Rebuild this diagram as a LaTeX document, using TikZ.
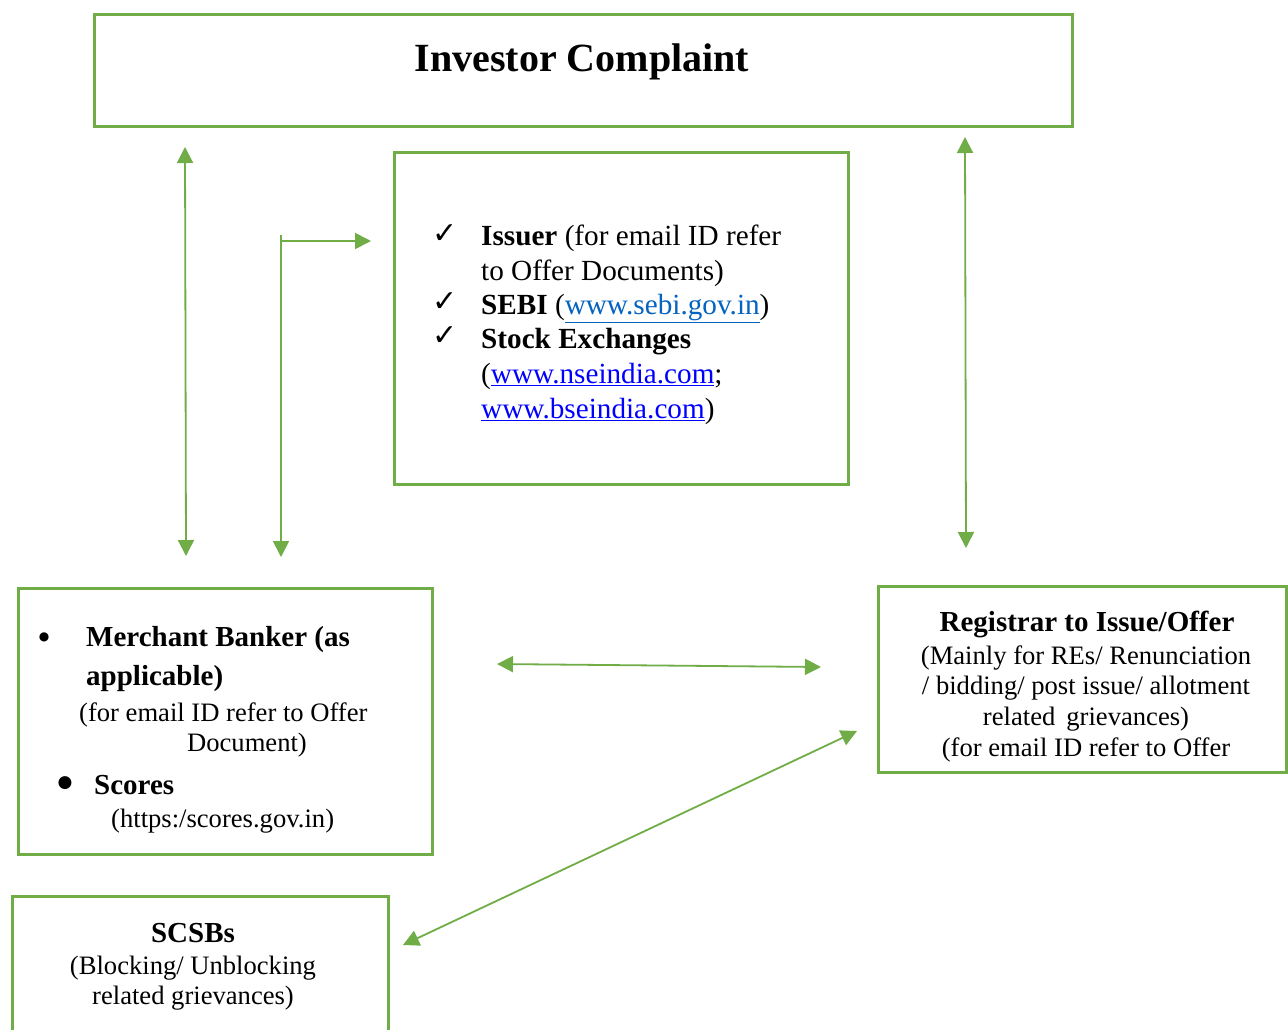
\documentclass[tikz,border=0pt]{standalone}
\usepackage{fontspec}
\setmainfont{Liberation Serif}
\newfontfamily\symfont{DejaVu Sans}
\usetikzlibrary{arrows.meta}
\definecolor{grn}{HTML}{70AD47}
\definecolor{lnkA}{HTML}{0563C1}
\definecolor{lnkB}{HTML}{0000FF}
\tikzset{
  box/.style={draw=grn, line width=3pt, rectangle, inner sep=0pt, anchor=north west},
  conn/.style={draw=grn, line width=1.8pt, {Triangle[length=16pt,width=16pt]}-{Triangle[length=16pt,width=16pt]}},
  conn1/.style={draw=grn, line width=1.8pt, -{Triangle[length=16pt,width=16pt]}},
  txt/.style={inner sep=0pt, font=\fontsize{26.6}{30}\selectfont},
  btxt/.style={inner sep=0pt, font=\fontsize{29}{30}\selectfont\bfseries},
  midtxt/.style={inner sep=0pt, font=\fontsize{29.2}{34}\selectfont, anchor=base west},
  sym/.style={inner sep=0pt, font=\fontsize{#1}{30}\symfont},
}
\newcommand{\lnkA}[1]{\textcolor{lnkA}{\underline{#1}}}
\newcommand{\lnkB}[1]{\textcolor{lnkB}{\underline{#1}}}
\newcommand{\mbf}[1]{{\fontsize{29.2}{34}\selectfont\bfseries #1}}
\begin{document}
\begin{tikzpicture}[x=1pt,y=-1pt]
\useasboundingbox (0,0) rectangle (1288,1029);
\fill[white] (0,0) rectangle (1288,1029);
% boxes
\node[box, minimum width=978pt, minimum height=112pt] (ic) at (93,13) {};
\node[box, minimum width=454pt, minimum height=332pt] (mid) at (393,151) {};
\node[box, minimum width=414pt, minimum height=266pt] (mb) at (17,587) {};
\node[box, minimum width=408pt, minimum height=186pt] (reg) at (877,585) {};
\node[box, minimum width=376pt, minimum height=150pt] (scsb) at (11,895) {};
% title
\node[inner sep=0pt, font=\fontsize{40}{44}\selectfont\bfseries, anchor=base] (ttl) at (582,71) {Investor Complaint};
% middle box
\node[sym=30] (c1) at (445,234) {✓};
\node[sym=30] (c2) at (445,302) {✓};
\node[sym=30] (c3) at (445,336) {✓};
\node[midtxt] (m1) at (481,245) {\mbf{Issuer} (for email ID refer};
\node[midtxt] (m2) at (481,280) {to Offer Documents)};
\node[midtxt] (m3) at (481,314) {\mbf{SEBI} (\lnkA{www.sebi.gov.in})};
\node[midtxt] (m4) at (481,348) {\mbf{Stock Exchanges}};
\node[midtxt] (m5) at (481,383) {(\lnkB{www.nseindia.com};};
\node[midtxt] (m6) at (481,418) {\lnkB{www.bseindia.com})};
% merchant box
\node[sym=12] (b1) at (44,637) {●};
\node[btxt, anchor=base west] (mb1) at (86,646) {Merchant Banker (as};
\node[btxt, anchor=base west] (mb2) at (86,685) {applicable)};
\node[txt, anchor=base west] (mb3) at (79,721) {(for email ID refer to Offer};
\node[txt, anchor=base] (mb4) at (247,751) {Document)};
\node[sym=17] (b2) at (65,783) {●};
\node[btxt, anchor=base west] (mb5) at (94,794) {Scores};
\node[txt, anchor=base west] (mb6) at (111,827) {(https:/scores.gov.in)};
% registrar box
\node[btxt, anchor=base] (r1) at (1087,631) {Registrar to Issue/Offer};
\node[txt, anchor=base] (r2) at (1086,664) {(Mainly for REs/ Renunciation};
\node[txt, anchor=base] (r3) at (1086,694) {/ bidding/ post issue/ allotment};
\node[txt, anchor=base] (r4) at (1086,725) {related\, grievances)};
\node[txt, anchor=base] (r5) at (1086,756) {(for email ID refer to Offer};
% scsb box
\node[btxt, anchor=base] (s1) at (193,942) {SCSBs};
\node[txt, anchor=base] (s2) at (193,974) {(Blocking/ Unblocking};
\node[txt, anchor=base] (s3) at (193,1004) {related grievances)};
% connector endpoints
\coordinate (a1) at (185,147);
\coordinate (a2) at (186,556);
\coordinate (e0) at (281,235);
\coordinate (e1) at (281,557);
\coordinate (e2) at (371,241);
\coordinate (c1t) at (965,137);
\coordinate (c1b) at (966,548);
\coordinate (h1) at (497,664);
\coordinate (h2) at (821,667);
\coordinate (d1) at (857,731);
\coordinate (d2) at (403,945);
% connectors
\draw[conn] (a1) -- (a2);
\draw[conn1] (e0) -- (e1);
\draw[conn1] (e0 |- e2) -- (e2);
\draw[conn] (c1t) -- (c1b);
\draw[conn] (h1) -- (h2);
\draw[conn] (d1) -- (d2);
\end{tikzpicture}
\end{document}
